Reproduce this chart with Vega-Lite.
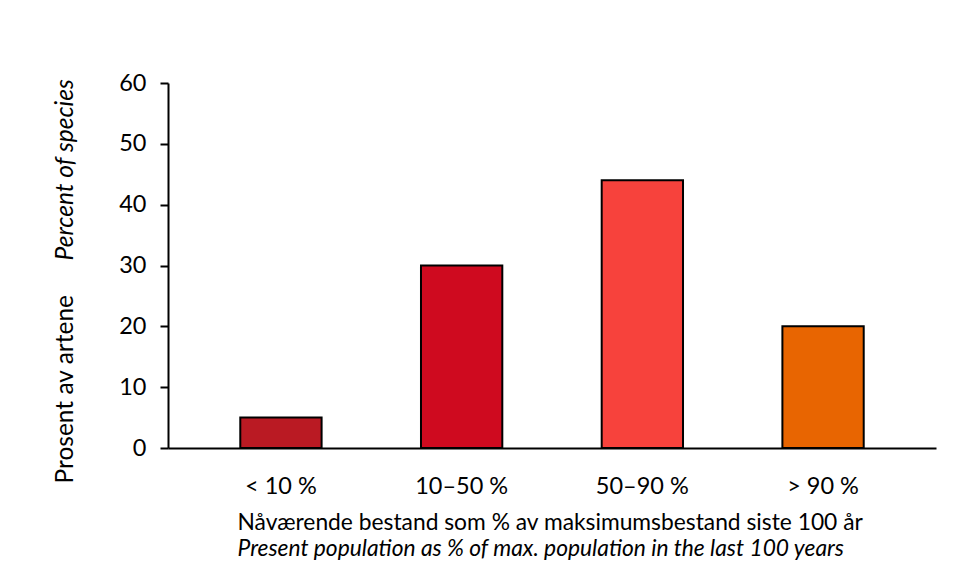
{
  "$schema": "https://vega.github.io/schema/vega-lite/v6.json",
  "width": 768,
  "height": 365,
  "autosize": {"type": "none"},
  "padding": {"left": 168, "top": 83, "right": 41, "bottom": 123},
  "background": "white",
  "config": {"view": {"stroke": null}, "font": "Lato"},
  "data": {"values": [
    {"category": "< 10 %", "percent": 5},
    {"category": "10–50 %", "percent": 30},
    {"category": "50–90 %", "percent": 44},
    {"category": "> 90 %", "percent": 20}
  ]},
  "layer": [
    {
      "mark": {"type": "bar", "stroke": "black", "strokeWidth": 2},
      "encoding": {
        "x": {
          "field": "category", "type": "nominal", "sort": null,
          "scale": {"paddingInner": 0.55, "paddingOuter": 0.4},
          "axis": {
            "title": "Nåværende bestand som % av maksimumsbestand siste 100 år",
            "orient": "bottom", "labelAngle": 0, "ticks": false, "tickSize": 0,
            "domainColor": "black", "domainWidth": 2,
            "labelFontSize": 23.5, "labelColor": "black", "labelBaseline": "alphabetic", "labelPadding": 45,
            "titleFontSize": 22.8, "titleFontWeight": "normal", "titleColor": "black",
            "titleAlign": "left", "titleAnchor": "start", "titleBaseline": "alphabetic",
            "titleX": 69, "titleY": 81
          }
        },
        "y": {
          "field": "percent", "type": "quantitative",
          "scale": {"domain": [0, 60]},
          "axis": {
            "title": "Prosent av artene", "orient": "left",
            "values": [0, 10, 20, 30, 40, 50, 60], "grid": false,
            "domainColor": "black", "domainWidth": 2,
            "tickColor": "black", "tickWidth": 2, "tickSize": 8,
            "labelFontSize": 23.5, "labelColor": "black", "labelPadding": 14,
            "titleFontSize": 24.5, "titleFontWeight": "normal", "titleColor": "black",
            "titleAngle": 270, "titleAlign": "left", "titleAnchor": "start", "titleBaseline": "alphabetic",
            "titleX": -96, "titleY": 400
          }
        },
        "color": {
          "field": "category", "type": "nominal", "sort": null,
          "scale": {"domain": ["< 10 %", "10–50 %", "50–90 %", "> 90 %"], "range": ["#BA1A23", "#CF0A1F", "#F7423C", "#E86501"]},
          "legend": null
        }
      }
    },
    {
      "mark": {"type": "bar", "opacity": 0},
      "encoding": {
        "x": {
          "field": "category", "type": "nominal", "sort": null,
          "axis": {
            "title": "Present population as % of max. population in the last 100 years",
            "orient": "bottom", "labels": false, "ticks": false, "domain": false,
            "titleFontSize": 22.8, "titleFontWeight": "normal", "titleFontStyle": "italic", "titleColor": "black",
            "titleAlign": "left", "titleAnchor": "start", "titleBaseline": "alphabetic",
            "titleX": 69, "titleY": 107
          }
        },
        "y": {
          "field": "percent", "type": "quantitative",
          "axis": {
            "title": "Percent of species", "orient": "left",
            "labels": false, "ticks": false, "domain": false, "grid": false,
            "titleFontSize": 24.5, "titleFontWeight": "normal", "titleFontStyle": "italic", "titleColor": "black",
            "titleAngle": 270, "titleAlign": "left", "titleAnchor": "start", "titleBaseline": "alphabetic",
            "titleX": -96, "titleY": 177
          }
        }
      }
    }
  ],
  "resolve": {"axis": {"x": "independent", "y": "independent"}}
}
